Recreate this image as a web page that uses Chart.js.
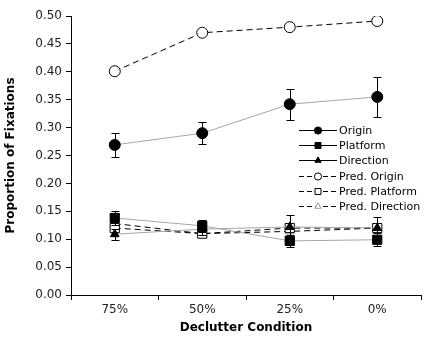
<!DOCTYPE html>
<html>
<head>
<meta charset="utf-8">
<script src="https://cdn.jsdelivr.net/npm/chart.js@4/dist/chart.umd.min.js"></script>
<style>
  html, body { margin: 0; padding: 0; background: #fff; }
  #wrap { width: 424px; height: 339px; }
</style>
</head>
<body>
<div id="wrap"><canvas id="chart" width="424" height="339"></canvas></div>
<script>
const categories = ["75%", "50%", "25%", "0%"];
const origin = [0.269, 0.290, 0.342, 0.355];
const originErr = [0.021, 0.020, 0.028, 0.036];
const platform = [0.138, 0.124, 0.097, 0.099];
const platformErr = [0.012, 0.011, 0.011, 0.012];
const direction = [0.109, 0.118, 0.122, 0.120];
const directionErr = [0.010, 0.010, 0.022, 0.020];
const predOrigin = [0.401, 0.470, 0.480, 0.491];
const predPlatform = [0.120, 0.110, 0.120, 0.120];
const predDirection = [0.128, 0.110, 0.114, 0.120];

const FONT = "'DejaVu Sans', Verdana, sans-serif";

// Error bars
const errorBars = {
  id: "errorBars",
  afterDatasetsDraw(chart) {
    const ctx = chart.ctx;
    const y = chart.scales.y;
    ctx.save();
    ctx.strokeStyle = "#000";
    ctx.lineWidth = 1;
    chart.data.datasets.forEach((ds, i) => {
      if (!ds.errors) return;
      const meta = chart.getDatasetMeta(i);
      meta.data.forEach((pt, j) => {
        const x = Math.round(pt.x) + 0.5;
        const top = Math.round(y.getPixelForValue(ds.data[j] + ds.errors[j])) + 0.5;
        const bot = Math.round(y.getPixelForValue(ds.data[j] - ds.errors[j])) + 0.5;
        ctx.beginPath();
        ctx.moveTo(x, top); ctx.lineTo(x, bot);
        ctx.moveTo(x - 4, top); ctx.lineTo(x + 4, top);
        ctx.moveTo(x - 4, bot); ctx.lineTo(x + 4, bot);
        ctx.stroke();
      });
    });
    ctx.restore();
  }
};

// Legend inside the plot
const insideLegend = {
  id: "insideLegend",
  afterDraw(chart) {
    const ctx = chart.ctx;
    ctx.save();
    ctx.font = "11px " + FONT;
    ctx.textBaseline = "middle";
    const x0 = 299, x1 = 337, xm = 318;
    chart.data.datasets.forEach((ds, i) => {
      const yy = Math.round(130 + i * 15.2) + 0.5;
      ctx.strokeStyle = "#000";
      ctx.lineWidth = 1;
      ctx.setLineDash(ds.borderDash.length ? [5, 3] : []);
      ctx.beginPath();
      ctx.moveTo(x0, yy);
      ctx.lineTo(x1, yy);
      ctx.stroke();
      ctx.setLineDash([]);
      ctx.fillStyle = ds.pointBackgroundColor;
      ctx.strokeStyle = ds.pointBorderColor;
      Chart.helpers.drawPoint(ctx, {
        pointStyle: ds.pointStyle,
        radius: ds.pointStyle === "rect" ? 4.2 : 3.6,
        borderWidth: 1
      }, xm, yy);
      ctx.fillStyle = "#000";
      ctx.fillText(ds.label, 339, yy + 0.5);
    });
    ctx.restore();
  }
};

function series(label, data, style, filled, dashed, errors, radius) {
  return {
    label: label,
    data: data,
    errors: errors,
    borderColor: dashed ? "#000" : "#a6a6a6",
    borderWidth: 1,
    borderDash: dashed ? [6, 4] : [],
    pointStyle: style,
    pointRadius: radius,
    pointBorderWidth: 1,
    pointBorderColor: dashed && style === "triangle" ? "#999" : "#000",
    pointBackgroundColor: filled ? "#000" : "#fff",
    tension: 0
  };
}

new Chart(document.getElementById("chart"), {
  type: "line",
  data: {
    labels: categories,
    datasets: [
      series("Origin", origin, "circle", true, false, originErr, 5.5),
      series("Platform", platform, "rect", true, false, platformErr, 6.5),
      series("Direction", direction, "triangle", true, false, directionErr, 5),
      series("Pred. Origin", predOrigin, "circle", false, true, null, 5.5),
      series("Pred. Platform", predPlatform, "rect", false, true, null, 6.5),
      series("Pred. Direction", predDirection, "triangle", false, true, null, 5)
    ]
  },
  options: {
    responsive: false,
    animation: false,
    layout: { autoPadding: false, padding: { top: 16, right: 3, left: 0, bottom: 0 } },
    plugins: { legend: { display: false }, tooltip: { enabled: false } },
    scales: {
      x: {
        offset: true,
        grid: { offset: true, drawOnChartArea: false, color: "#000", tickLength: 5 },
        border: { color: "#000" },
        ticks: { color: "#222", font: { family: FONT, size: 12 }, padding: 3 },
        title: { display: true, text: "Declutter Condition", color: "#000",
                 font: { family: FONT, size: 12, weight: "bold" }, padding: { top: 5 } },
        afterFit(s) { s.height = 44; s.paddingLeft = 0; s.paddingRight = 0; }
      },
      y: {
        min: 0, max: 0.5,
        grid: { drawOnChartArea: false, color: "#000", tickLength: 5 },
        border: { color: "#000" },
        ticks: { stepSize: 0.05, color: "#222", font: { family: FONT, size: 12 }, padding: 4,
                 callback: v => v.toFixed(2) },
        title: { display: true, text: "Proportion of Fixations", color: "#000",
                 font: { family: FONT, size: 12, weight: "bold" }, padding: { bottom: 4 } },
        afterFit(s) { s.width = 71; s.paddingTop = 0; s.paddingBottom = 0; }
      }
    }
  },
  plugins: [errorBars, insideLegend]
});
</script>
</body>
</html>
